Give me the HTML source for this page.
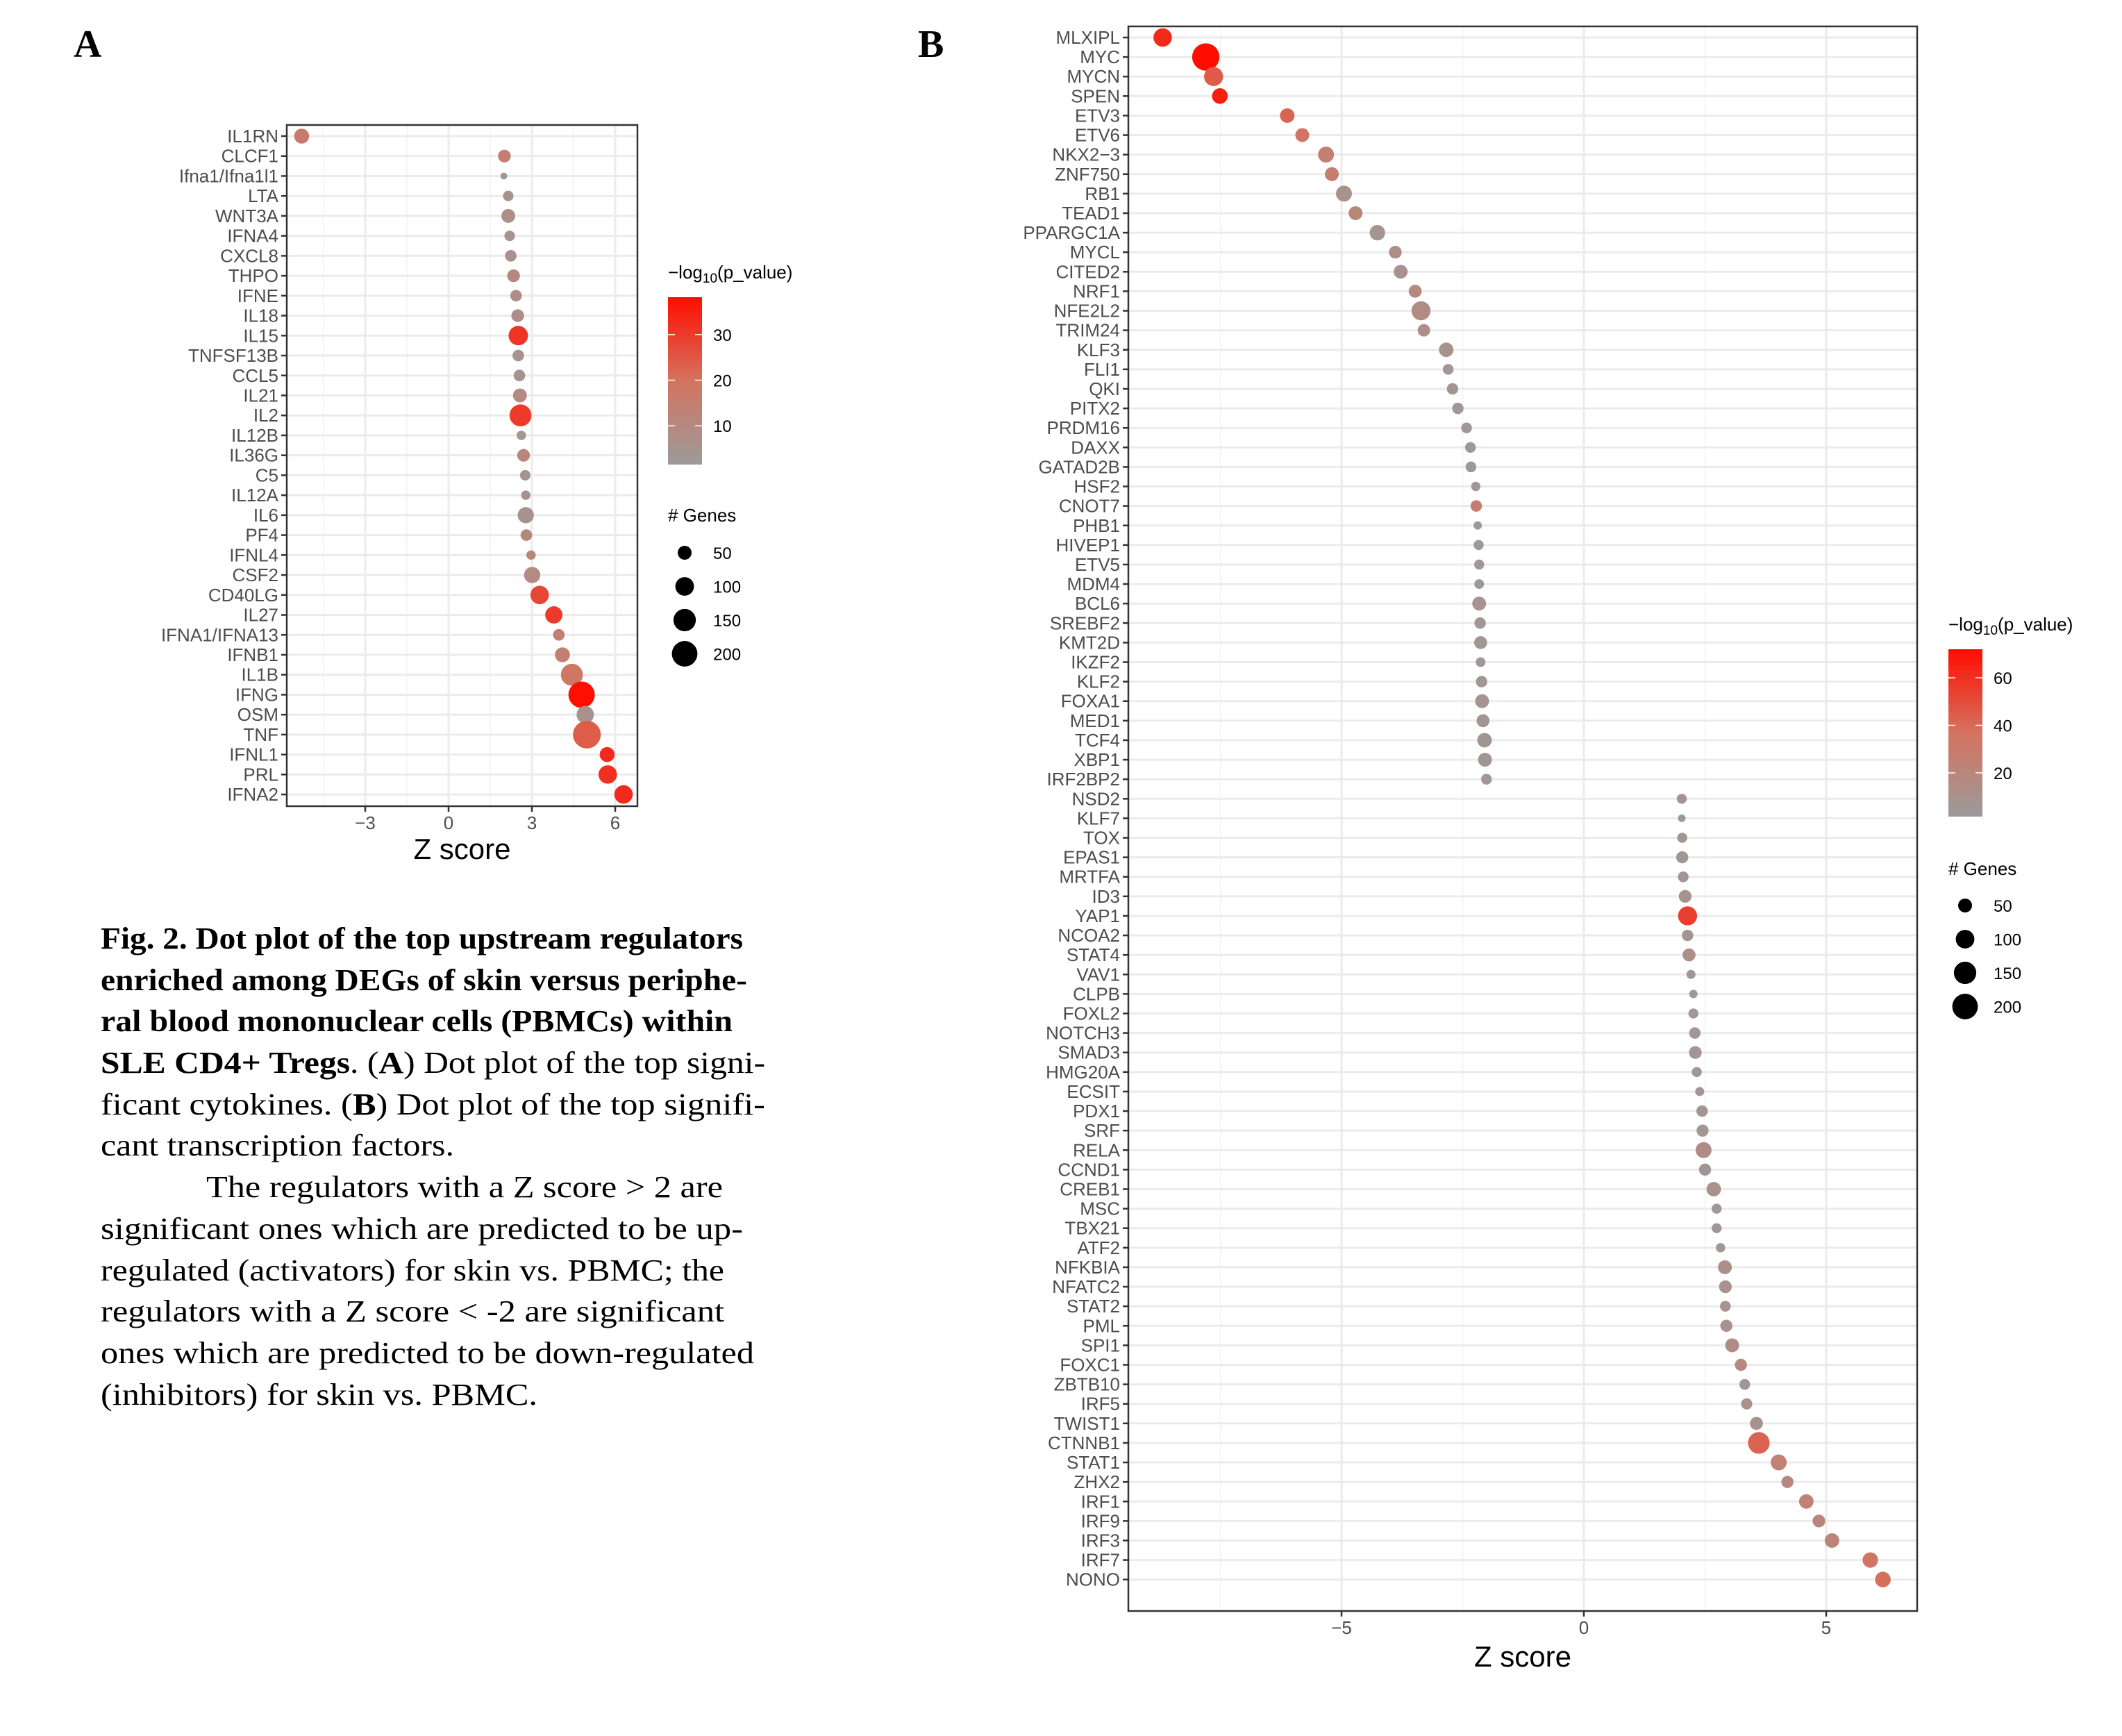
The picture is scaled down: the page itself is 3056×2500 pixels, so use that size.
<!DOCTYPE html>
<html><head><meta charset="utf-8">
<style>
html,body{margin:0;padding:0;background:#fff;}
svg{display:block;}
.lab{font-family:"Liberation Sans",Arial,sans-serif;}
.cap{font-family:"Liberation Serif","Times New Roman",serif;}
</style></head>
<body>
<svg id="fig" xmlns="http://www.w3.org/2000/svg" width="3056" height="2500" viewBox="0 0 3056 2500">
<defs>
<linearGradient id="gradA" x1="0" y1="1" x2="0" y2="0">
<stop offset="0" stop-color="#9b9b9b"/><stop offset="0.5" stop-color="#d4735f"/><stop offset="1" stop-color="#ff0d00"/>
</linearGradient>
<linearGradient id="gradB" x1="0" y1="1" x2="0" y2="0">
<stop offset="0" stop-color="#9b9b9b"/><stop offset="0.5" stop-color="#d4735f"/><stop offset="1" stop-color="#ff0d00"/>
</linearGradient>
</defs>
<text class="cap" x="106" y="82" font-size="56" font-weight="bold">A</text>
<text class="cap" x="1322" y="82" font-size="56" font-weight="bold">B</text>
<g id="panelA"></g>
<g id="panelB"></g>
<g class="cap" font-size="44" fill="#000">
<text x="145" y="1366" textLength="925" lengthAdjust="spacingAndGlyphs" font-weight="bold">Fig. 2. Dot plot of the top upstream regulators</text>
<text x="145" y="1426" textLength="931" lengthAdjust="spacingAndGlyphs" font-weight="bold">enriched among DEGs of skin versus periphe-</text>
<text x="145" y="1485" textLength="910" lengthAdjust="spacingAndGlyphs" font-weight="bold">ral blood mononuclear cells (PBMCs) within</text>
<text x="145" y="1545" textLength="957" lengthAdjust="spacingAndGlyphs"><tspan font-weight="bold">SLE CD4+ Tregs</tspan>. (<tspan font-weight="bold">A</tspan>) Dot plot of the top signi-</text>
<text x="145" y="1605" textLength="957" lengthAdjust="spacingAndGlyphs">ficant cytokines. (<tspan font-weight="bold">B</tspan>) Dot plot of the top signifi-</text>
<text x="145" y="1664" textLength="509" lengthAdjust="spacingAndGlyphs">cant transcription factors.</text>
<text x="297" y="1724" textLength="744" lengthAdjust="spacingAndGlyphs">The regulators with a Z score &gt; 2 are</text>
<text x="145" y="1784" textLength="925" lengthAdjust="spacingAndGlyphs">significant ones which are predicted to be up-</text>
<text x="145" y="1844" textLength="898" lengthAdjust="spacingAndGlyphs">regulated (activators) for skin vs. PBMC; the</text>
<text x="145" y="1903" textLength="898" lengthAdjust="spacingAndGlyphs">regulators with a Z score &lt; -2 are significant</text>
<text x="145" y="1963" textLength="941" lengthAdjust="spacingAndGlyphs">ones which are predicted to be down-regulated</text>
<text x="145" y="2023" textLength="629" lengthAdjust="spacingAndGlyphs">(inhibitors) for skin vs. PBMC.</text>
</g>
</svg>
<script>
// ---- Panel A data ----
const aCats = ["IL1RN","CLCF1","Ifna1/Ifna1l1","LTA","WNT3A","IFNA4","CXCL8","THPO","IFNE","IL18","IL15","TNFSF13B","CCL5","IL21","IL2","IL12B","IL36G","C5","IL12A","IL6","PF4","IFNL4","CSF2","CD40LG","IL27","IFNA1/IFNA13","IFNB1","IL1B","IFNG","OSM","TNF","IFNL1","PRL","IFNA2"];
const aZ = [-5.29,2.01,1.99,2.15,2.15,2.20,2.24,2.34,2.43,2.49,2.51,2.51,2.55,2.57,2.59,2.62,2.70,2.76,2.78,2.78,2.80,2.97,3.01,3.28,3.79,3.97,4.10,4.44,4.79,4.92,4.98,5.71,5.73,6.30];
const aGenes = [60,40,3,23,50,23,31,40,31,40,110,31,31,50,144,16,40,23,16,73,31,16,73,98,85,31,60,144,213,85,238,60,98,98];
const aP = [16,15,4,5,7,5,6,10,8,7,31,5,5,9,30,4,11,5,5,5,10,11,9,28,30,14,14,18,38,5,24,33,32,33];
const aXTicks = [-3,0,3,6];
const aColorTicks = [10,20,30];
const sizeTicks = [50,100,150,200];
// ---- Panel B data ----
const bCats = ["MLXIPL","MYC","MYCN","SPEN","ETV3","ETV6","NKX2-3","ZNF750","RB1","TEAD1","PPARGC1A","MYCL","CITED2","NRF1","NFE2L2","TRIM24","KLF3","FLI1","QKI","PITX2","PRDM16","DAXX","GATAD2B","HSF2","CNOT7","PHB1","HIVEP1","ETV5","MDM4","BCL6","SREBF2","KMT2D","IKZF2","KLF2","FOXA1","MED1","TCF4","XBP1","IRF2BP2","NSD2","KLF7","TOX","EPAS1","MRTFA","ID3","YAP1","NCOA2","STAT4","VAV1","CLPB","FOXL2","NOTCH3","SMAD3","HMG20A","ECSIT","PDX1","SRF","RELA","CCND1","CREB1","MSC","TBX21","ATF2","NFKBIA","NFATC2","STAT2","PML","SPI1","FOXC1","ZBTB10","IRF5","TWIST1","CTNNB1","STAT1","ZHX2","IRF1","IRF9","IRF3","IRF7","NONO"];
const bZ = [-8.69,-7.80,-7.64,-7.51,-6.12,-5.81,-5.32,-5.20,-4.95,-4.71,-4.26,-3.89,-3.78,-3.48,-3.36,-3.30,-2.84,-2.80,-2.71,-2.60,-2.42,-2.34,-2.33,-2.23,-2.22,-2.19,-2.17,-2.16,-2.16,-2.16,-2.14,-2.13,-2.13,-2.11,-2.10,-2.08,-2.05,-2.04,-2.01,2.02,2.02,2.03,2.03,2.05,2.09,2.14,2.14,2.17,2.21,2.26,2.26,2.29,2.30,2.33,2.39,2.44,2.45,2.47,2.50,2.68,2.74,2.74,2.82,2.91,2.92,2.92,2.94,3.06,3.24,3.32,3.36,3.56,3.61,4.02,4.20,4.59,4.85,5.12,5.91,6.17];
const bGenes = [98,230,105,67,56,50,70,50,70,50,65,40,50,42,105,38,56,25,30,30,25,25,25,16,30,10,20,20,18,50,30,42,18,30,50,42,56,50,25,20,6,20,35,25,40,105,30,42,14,10,20,30,40,20,14,30,35,70,35,56,20,20,16,50,40,25,35,50,35,25,28,42,140,70,35,56,40,56,65,67];
const bP = [62,72,45,66,42,34,26,28,10,20,8,14,10,17,16,13,9,5,6,4,4,4,4,4,28,3,4,4,4,8,5,6,4,5,8,6,6,6,5,8,4,6,5,5,10,55,6,12,4,4,4,5,6,5,5,6,5,14,6,10,4,4,4,12,10,10,10,14,18,6,10,10,42,24,18,24,20,22,34,38];
const bXTicks = [-5,0,5];
const bColorTicks = [20,40,60];

const NS = "http://www.w3.org/2000/svg";
function mk(parent, tag, attrs, text) {
  const e = document.createElementNS(NS, tag);
  for (const k in attrs) e.setAttribute(k, attrs[k]);
  if (text !== undefined) e.textContent = text;
  parent.appendChild(e);
  return e;
}
function radius(n) { return Math.sqrt(Math.max(16, 20 + 1.6 * n)); }
function lerp(a, b, t) { return a + (b - a) * t; }
function colorFor(v, vmin, vmax) {
  let t = Math.min(1, Math.max(0, (v - vmin) / (vmax - vmin)));
  const s0 = [155,155,155], s1 = [212,115,95], s2 = [255,13,0];
  let c;
  if (t < 0.5) { const u = t / 0.5; c = s0.map((x, i) => lerp(x, s1[i], u)); }
  else { const u = (t - 0.5) / 0.5; c = s1.map((x, i) => lerp(x, s2[i], u)); }
  return "rgb(" + c.map(Math.round).join(",") + ")";
}

function drawPanel(g, cfg) {
  const xs = z => cfg.x0 + z * cfg.ppu;
  const ys = i => cfg.yFirst + i * cfg.rowStep;
  const bg = mk(g, "rect", {x: cfg.left, y: cfg.top, width: cfg.right - cfg.left, height: cfg.bottom - cfg.top, fill: "#fff"});
  
  
  for (let i = 0; i < cfg.ticks.length + 1; i++) {
    const z = (cfg.ticks[0] - cfg.step / 2) + i * cfg.step;
    const x = xs(z);
    if (x > cfg.left && x < cfg.right) {
      const l = mk(g, "line", {x1: x, x2: x, y1: cfg.top, y2: cfg.bottom, stroke: "#f2f2f2", "stroke-width": 1.5});
      
      
    }
  }
  cfg.ticks.forEach(t => {
    const x = xs(t);
    const l = mk(g, "line", {x1: x, x2: x, y1: cfg.top, y2: cfg.bottom, stroke: "#ebebeb", "stroke-width": 3});
    
    
    const tk = mk(g, "line", {x1: x, x2: x, y1: cfg.bottom, y2: cfg.bottom + 8, stroke: "#333", "stroke-width": 2.5});
    
    
    const tl = mk(g, "text", {x: x, y: cfg.bottom + 33, "text-anchor": "middle", "font-size": 26, fill: "#4d4d4d", class: "lab"}, t < 0 ? "\u2212" + Math.abs(t) : String(t));
    
    
  });
  cfg.cats.forEach((c, i) => {
    const y = ys(i);
    const l = mk(g, "line", {x1: cfg.left, x2: cfg.right, y1: y, y2: y, stroke: "#ebebeb", "stroke-width": 3});
    
    
    const tk = mk(g, "line", {x1: cfg.left - 8, x2: cfg.left, y1: y, y2: y, stroke: "#333", "stroke-width": 2.5});
    
    
    const tl = mk(g, "text", {x: cfg.left - 12, y: y + 9, "text-anchor": "end", "font-size": 26, fill: "#4d4d4d", class: "lab"}, c.replace("-", "\u2212"));
    
    
  });
  cfg.cats.forEach((c, i) => {
    const d = mk(g, "circle", {cx: xs(cfg.z[i]), cy: ys(i), r: radius(cfg.genes[i]), fill: colorFor(cfg.p[i], cfg.vmin, cfg.vmax)});
    
    
  });
  const b = mk(g, "rect", {x: cfg.left, y: cfg.top, width: cfg.right - cfg.left, height: cfg.bottom - cfg.top, fill: "none", stroke: "#333", "stroke-width": 2.5});
  
  
  const at = mk(g, "text", {x: (cfg.left + cfg.right) / 2, y: cfg.titleY, "text-anchor": "middle", "font-size": 42, fill: "#000", class: "lab"}, "Z score");
  
  
  const L = cfg.leg;
  const lt = mk(g, "text", {x: L.x, y: L.titleY, "font-size": 26, fill: "#000", class: "lab"});
  
  
  mk(lt, "tspan", {}, "\u2212log");
  mk(lt, "tspan", {"font-size": 19, dy: 6}, "10");
  mk(lt, "tspan", {dy: -6}, "(p_value)");
  const bar = mk(g, "rect", {x: L.x, y: L.barTop, width: 49, height: L.barBot - L.barTop, fill: "url(#" + cfg.grad + ")"});
  
  
  const vy = v => L.barBot - (v - cfg.vmin) / (cfg.vmax - cfg.vmin) * (L.barBot - L.barTop);
  cfg.cticks.forEach(v => {
    const y = vy(v);
    const t1 = mk(g, "line", {x1: L.x, x2: L.x + 10, y1: y, y2: y, stroke: "#fff", "stroke-width": 1.5});
    
    
    const t2 = mk(g, "line", {x1: L.x + 39, x2: L.x + 49, y1: y, y2: y, stroke: "#fff", "stroke-width": 1.5});
    
    
    const tl = mk(g, "text", {x: L.x + 65, y: y + 9, "font-size": 24, fill: "#000", class: "lab"}, String(v));
    
    
  });
  const st = mk(g, "text", {x: L.x, y: L.sizeTitleY, "font-size": 26, fill: "#000", class: "lab"}, "# Genes");
  
  
  sizeTicks.forEach((n, i) => {
    const y = L.sizeY0 + i * L.sizeStep;
    const c = mk(g, "circle", {cx: L.x + 24, cy: y, r: radius(n), fill: "#000"});
    
    
    const tl = mk(g, "text", {x: L.x + 65, y: y + 9, "font-size": 24, fill: "#000", class: "lab"}, String(n));
    
    
  });
}

drawPanel(document.getElementById("panelA"), {
  cats: aCats, z: aZ, genes: aGenes, p: aP, ticks: aXTicks, step: 3, cticks: aColorTicks,
  left: 413, right: 918, top: 180, bottom: 1161, x0: 646, ppu: 40,
  yFirst: 196, rowStep: 28.73, titleY: 1237, vmin: 1.5, vmax: 38.2, grad: "gradA",
  leg: {x: 962, titleY: 401, barTop: 428, barBot: 669, sizeTitleY: 751, sizeY0: 796, sizeStep: 48.5}
});
drawPanel(document.getElementById("panelB"), {
  cats: bCats, z: bZ, genes: bGenes, p: bP, ticks: bXTicks, step: 5, cticks: bColorTicks,
  left: 1625, right: 2761, top: 38, bottom: 2320, x0: 2281, ppu: 69.8,
  yFirst: 54, rowStep: 28.11, titleY: 2400, vmin: 1.6, vmax: 72, grad: "gradB",
  leg: {x: 2806, titleY: 908, barTop: 935, barBot: 1176, sizeTitleY: 1260, sizeY0: 1304, sizeStep: 48.5}
});
</script>
</body></html>
